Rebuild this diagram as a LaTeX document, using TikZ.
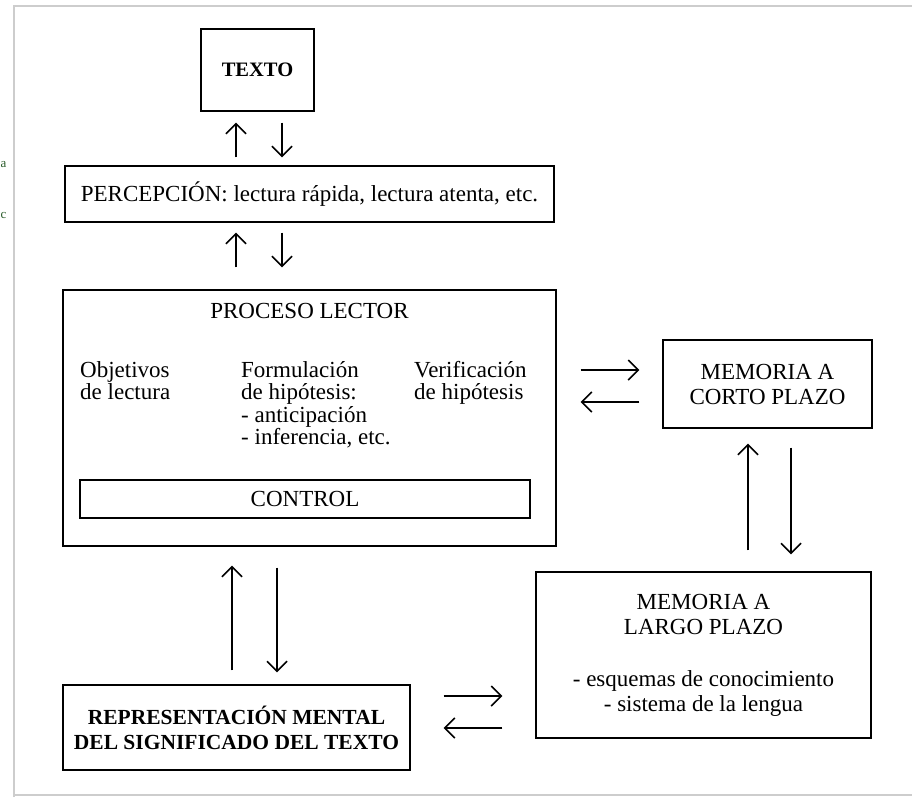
\documentclass[tikz,border=0pt]{standalone}
\usepackage{fontspec}
\setmainfont{Liberation Serif}
\usetikzlibrary{arrows.meta}
\definecolor{framegray}{RGB}{205,205,205}
\definecolor{strayg}{RGB}{40,90,40}
\begin{document}
\begin{tikzpicture}[x=1pt,y=-1pt,
  box/.style={draw, line width=1.4pt, inner sep=0pt, align=center, font=\fontsize{23}{25}\selectfont},
  arr/.style={line width=1.5pt, -{Straight Barb[length=10pt,width=20pt]}},
  txt/.style={inner sep=0pt, align=left, font=\fontsize{23}{22.6}\selectfont}]
\useasboundingbox (0,0) rectangle (912,797);
% page frame
\draw[framegray, line width=2pt] (14,797) -- (14,6) -- (912,6);
\draw[framegray, line width=2pt] (14,795) -- (912,795);
% stray letters at the left edge
\node[strayg, inner sep=0pt, anchor=west, font=\fontsize{13}{13}\selectfont] (sa) at (0.5,165) {a};
\node[strayg, inner sep=0pt, anchor=west, font=\fontsize{13}{13}\selectfont] (sc) at (0.5,215) {c};
% boxes
\node[box, minimum width=113pt, minimum height=82pt, font=\fontsize{20.5}{25}\selectfont\bfseries] (texto) at (257.5,70) {TEXTO};
\node[box, minimum width=489pt, minimum height=56pt] (perc) at (309.5,194) {PERCEPCIÓN: lectura rápida, lectura atenta, etc.};
\node[box, minimum width=493pt, minimum height=256pt] (proc) at (309.5,418) {};
\node[box, minimum width=450pt, minimum height=38pt] (control) at (305,499) {CONTROL};
\node[box, minimum width=209pt, minimum height=88pt] (mcp) at (767.5,384) {MEMORIA A\\CORTO PLAZO};
\node[box, minimum width=335pt, minimum height=166pt] (mlp) at (703.5,655) {MEMORIA A\\LARGO PLAZO\\[27pt]- esquemas de conocimiento\\- sistema de la lengua};
\node[box, minimum width=347pt, minimum height=85pt, font=\fontsize{21.5}{25}\selectfont\bfseries] (rep) at (236.5,727.5) {REPRESENTACIÓN MENTAL\\DEL SIGNIFICADO DEL TEXTO};
% content of PROCESO LECTOR
\node[txt, anchor=base] (ptitle) at (309.5,318) {PROCESO LECTOR};
\node[txt, anchor=north west] (obj) at (80,361) {Objetivos\\de lectura};
\node[txt, anchor=north west] (form) at (241,361) {Formulación\\de hipótesis:\\- anticipación\\- inferencia, etc.};
\node[txt, anchor=north west] (verif) at (414,361) {Verificación\\de hipótesis};
% arrows TEXTO <-> PERCEPCION
\draw[arr] ([xshift=-73.5pt,yshift=8pt]perc.north) -- ([xshift=-21.5pt,yshift=-11pt]texto.south);
\draw[arr] ([xshift=24.5pt,yshift=-11pt]texto.south) -- ([xshift=-27.5pt,yshift=8pt]perc.north);
% arrows PERCEPCION <-> PROCESO
\draw[arr] ([xshift=-73.5pt,yshift=22pt]proc.north) -- ([xshift=-73.5pt,yshift=-10pt]perc.south);
\draw[arr] ([xshift=-27.5pt,yshift=-10pt]perc.south) -- ([xshift=-27.5pt,yshift=22pt]proc.north);
% arrows PROCESO <-> MEMORIA CORTO
\draw[arr] ([xshift=24pt,yshift=48pt]proc.east) -- ([xshift=-23pt,yshift=14pt]mcp.west);
\draw[arr] ([xshift=-23pt,yshift=-18pt]mcp.west) -- ([xshift=24pt,yshift=16pt]proc.east);
% arrows MEMORIA CORTO <-> MEMORIA LARGO
\draw[arr] ([xshift=44.5pt,yshift=21pt]mlp.north) -- ([xshift=-19.5pt,yshift=-15pt]mcp.south);
\draw[arr] ([xshift=23.5pt,yshift=-19pt]mcp.south) -- ([xshift=87.5pt,yshift=17pt]mlp.north);
% arrows PROCESO <-> REPRESENTACION
\draw[arr] ([xshift=-4.5pt,yshift=14pt]rep.north) -- ([xshift=-77.5pt,yshift=-19pt]proc.south);
\draw[arr] ([xshift=-32.5pt,yshift=-21pt]proc.south) -- ([xshift=40.5pt,yshift=12pt]rep.north);
% arrows REPRESENTACION <-> MEMORIA LARGO
\draw[arr] ([xshift=33pt,yshift=31.5pt]rep.east) -- ([xshift=-33pt,yshift=-41pt]mlp.west);
\draw[arr] ([xshift=-33pt,yshift=-73pt]mlp.west) -- ([xshift=33pt,yshift=-0.5pt]rep.east);
\end{tikzpicture}
\end{document}
